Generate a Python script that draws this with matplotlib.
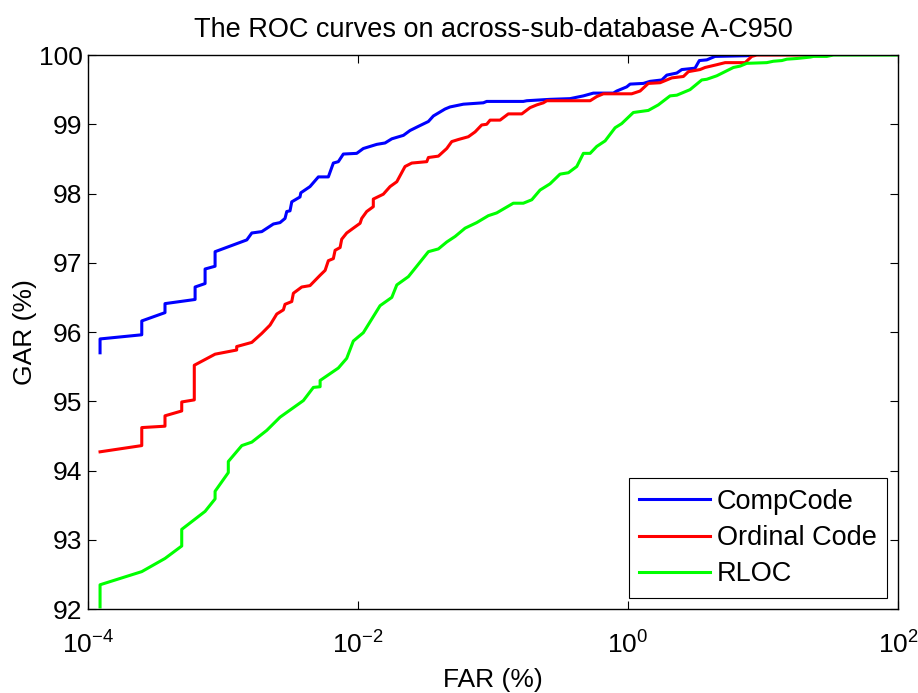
import numpy as np
import matplotlib
matplotlib.use("Agg")
import matplotlib.pyplot as plt
from matplotlib.ticker import NullLocator, FixedLocator

plt.rcParams['font.family'] = ['Liberation Sans', 'DejaVu Sans']
plt.rcParams['mathtext.fontset'] = 'custom'
plt.rcParams['mathtext.rm'] = 'Liberation Sans'

# curve data: FAR given as log10(FAR %), GAR in %
comp_far_exp = [-3.911, -3.911, -3.602, -3.602, -3.430, -3.430, -3.207, -3.207,
                -3.133, -3.133, -3.059, -3.059, -2.824, -2.787, -2.713, -2.627,
                -2.578, -2.541, -2.528, -2.504, -2.491, -2.430, -2.424, -2.356,
                -2.294, -2.220, -2.183, -2.146, -2.109, -2.010, -1.961, -1.861,
                -1.800, -1.750, -1.664, -1.615, -1.553, -1.479, -1.442, -1.356,
                -1.319, -1.220, -1.072, -1.047, -0.776, -0.750, -0.578, -0.430,
                -0.331, -0.257, -0.109, -0.084, -0.010, 0.015, 0.113, 0.163,
                0.250, 0.287, 0.361, 0.398, 0.496, 0.528, 0.583, 0.644,
                0.879, 0.916]
comp_gar = [95.70, 95.90, 95.96, 96.16, 96.28, 96.41, 96.47, 96.65,
            96.70, 96.91, 96.95, 97.16, 97.33, 97.43, 97.45, 97.56,
            97.58, 97.64, 97.74, 97.75, 97.88, 97.95, 98.01, 98.10,
            98.24, 98.24, 98.44, 98.46, 98.57, 98.58, 98.65, 98.71,
            98.73, 98.79, 98.84, 98.91, 98.97, 99.04, 99.12, 99.22,
            99.25, 99.29, 99.31, 99.33, 99.33, 99.34, 99.36, 99.37,
            99.41, 99.45, 99.45, 99.48, 99.54, 99.58, 99.59, 99.62,
            99.64, 99.71, 99.74, 99.79, 99.81, 99.92, 99.93, 99.98,
            99.99, 100.0]

ord_far_exp = [-3.911, -3.602, -3.602, -3.430, -3.430, -3.306, -3.306, -3.213,
               -3.213, -3.059, -2.899, -2.899, -2.787, -2.713, -2.652, -2.602,
               -2.553, -2.541, -2.491, -2.479, -2.417, -2.356, -2.281, -2.244,
               -2.220, -2.183, -2.170, -2.133, -2.121, -2.084, -2.035, -1.985,
               -1.973, -1.936, -1.887, -1.887, -1.813, -1.763, -1.713, -1.652,
               -1.602, -1.491, -1.479, -1.405, -1.343, -1.306, -1.257, -1.183,
               -1.133, -1.084, -1.047, -1.022, -0.948, -0.887, -0.787, -0.726,
               -0.676, -0.627, -0.602, -0.281, -0.232, -0.183, 0.027, 0.089,
               0.150, 0.237, 0.324, 0.410, 0.447, 0.533, 0.570, 0.657,
               0.719, 0.867, 0.916, 0.953, 1.348]
ord_gar = [94.27, 94.36, 94.62, 94.64, 94.79, 94.86, 94.99, 95.02,
           95.52, 95.68, 95.74, 95.79, 95.85, 95.98, 96.10, 96.26,
           96.32, 96.40, 96.44, 96.56, 96.65, 96.67, 96.82, 96.89,
           97.03, 97.06, 97.18, 97.22, 97.34, 97.43, 97.50, 97.57,
           97.64, 97.74, 97.81, 97.92, 97.99, 98.10, 98.17, 98.39,
           98.44, 98.46, 98.52, 98.54, 98.65, 98.75, 98.78, 98.82,
           98.89, 98.99, 99.00, 99.06, 99.06, 99.15, 99.15, 99.24,
           99.28, 99.31, 99.34, 99.34, 99.40, 99.44, 99.44, 99.48,
           99.59, 99.60, 99.67, 99.69, 99.76, 99.79, 99.82, 99.86,
           99.89, 99.89, 99.98, 100.0, 100.0]

rloc_far_exp = [-3.911, -3.911, -3.602, -3.430, -3.306, -3.306, -3.133, -3.059,
                -3.059, -2.961, -2.961, -2.861, -2.787, -2.676, -2.578, -2.405,
                -2.331, -2.281, -2.281, -2.146, -2.084, -2.035, -1.961, -1.837,
                -1.750, -1.713, -1.627, -1.479, -1.405, -1.343, -1.281, -1.207,
                -1.121, -1.035, -0.973, -0.850, -0.776, -0.713, -0.652, -0.578,
                -0.504, -0.442, -0.380, -0.331, -0.281, -0.232, -0.170, -0.096,
                -0.047, 0.039, 0.150, 0.224, 0.311, 0.361, 0.459, 0.546,
                0.583, 0.657, 0.780, 0.830, 0.879, 1.027, 1.076, 1.139,
                1.176, 1.250, 1.348, 1.373, 1.472, 1.521, 2.0]
rloc_gar = [92.03, 92.35, 92.54, 92.73, 92.91, 93.15, 93.41, 93.59,
            93.70, 93.97, 94.13, 94.36, 94.41, 94.58, 94.77, 95.01,
            95.20, 95.21, 95.30, 95.48, 95.62, 95.87, 95.99, 96.38,
            96.50, 96.68, 96.80, 97.16, 97.20, 97.30, 97.38, 97.50,
            97.58, 97.68, 97.72, 97.86, 97.86, 97.91, 98.05, 98.14,
            98.28, 98.30, 98.39, 98.58, 98.58, 98.68, 98.76, 98.95,
            99.01, 99.17, 99.20, 99.28, 99.41, 99.42, 99.50, 99.64,
            99.65, 99.70, 99.82, 99.84, 99.88, 99.89, 99.91, 99.92,
            99.94, 99.95, 99.97, 99.98, 99.98, 100.0, 100.0]

labels = ['CompCode', 'Ordinal Code', 'RLOC']
colors = ['#0000ff', '#ff0000', '#00ff00']

fig = plt.figure(figsize=(9.18, 6.93), dpi=100)
ax = fig.add_axes([0.0959, 0.1212, 0.8824, 0.7994])

series = [(comp_far_exp, comp_gar), (ord_far_exp, ord_gar), (rloc_far_exp, rloc_gar)]
for (fx, g), lab, c in zip(series, labels, colors):
    ax.plot(10.0 ** np.array(fx), g, color=c, lw=2.2, label=lab)

ax.set_xscale('log')
ax.set_xlim(1e-4, 1e2)
ax.set_ylim(92, 100)
ax.xaxis.set_major_locator(FixedLocator([1e-4, 1e-2, 1e0, 1e2]))
ax.xaxis.set_minor_locator(NullLocator())
ax.set_yticks(range(92, 101))

ax.tick_params(direction='in', top=True, right=True, labelsize=19,
               length=6, width=0.8)
ax.tick_params(axis='y', pad=4)
ax.tick_params(axis='x', pad=16)
for s in ax.spines.values():
    s.set_linewidth(1.0)

ax.set_title('The ROC curves on across-sub-database A-C950', fontsize=19.5, pad=13)
ax.set_xlabel('FAR (%)', fontsize=19, labelpad=7)
ax.set_ylabel('GAR (%)', fontsize=19)
ax.yaxis.set_label_coords(-0.063, 0.5)

leg = ax.legend(loc='lower right', fontsize=19.5, handlelength=2.6,
                fancybox=False, framealpha=1, borderaxespad=0.4,
                labelspacing=0.38, handletextpad=0.25, borderpad=0.4)
leg.get_frame().set_edgecolor('black')
leg.get_frame().set_linewidth(0.8)

fig.savefig('out.png', dpi=100)
